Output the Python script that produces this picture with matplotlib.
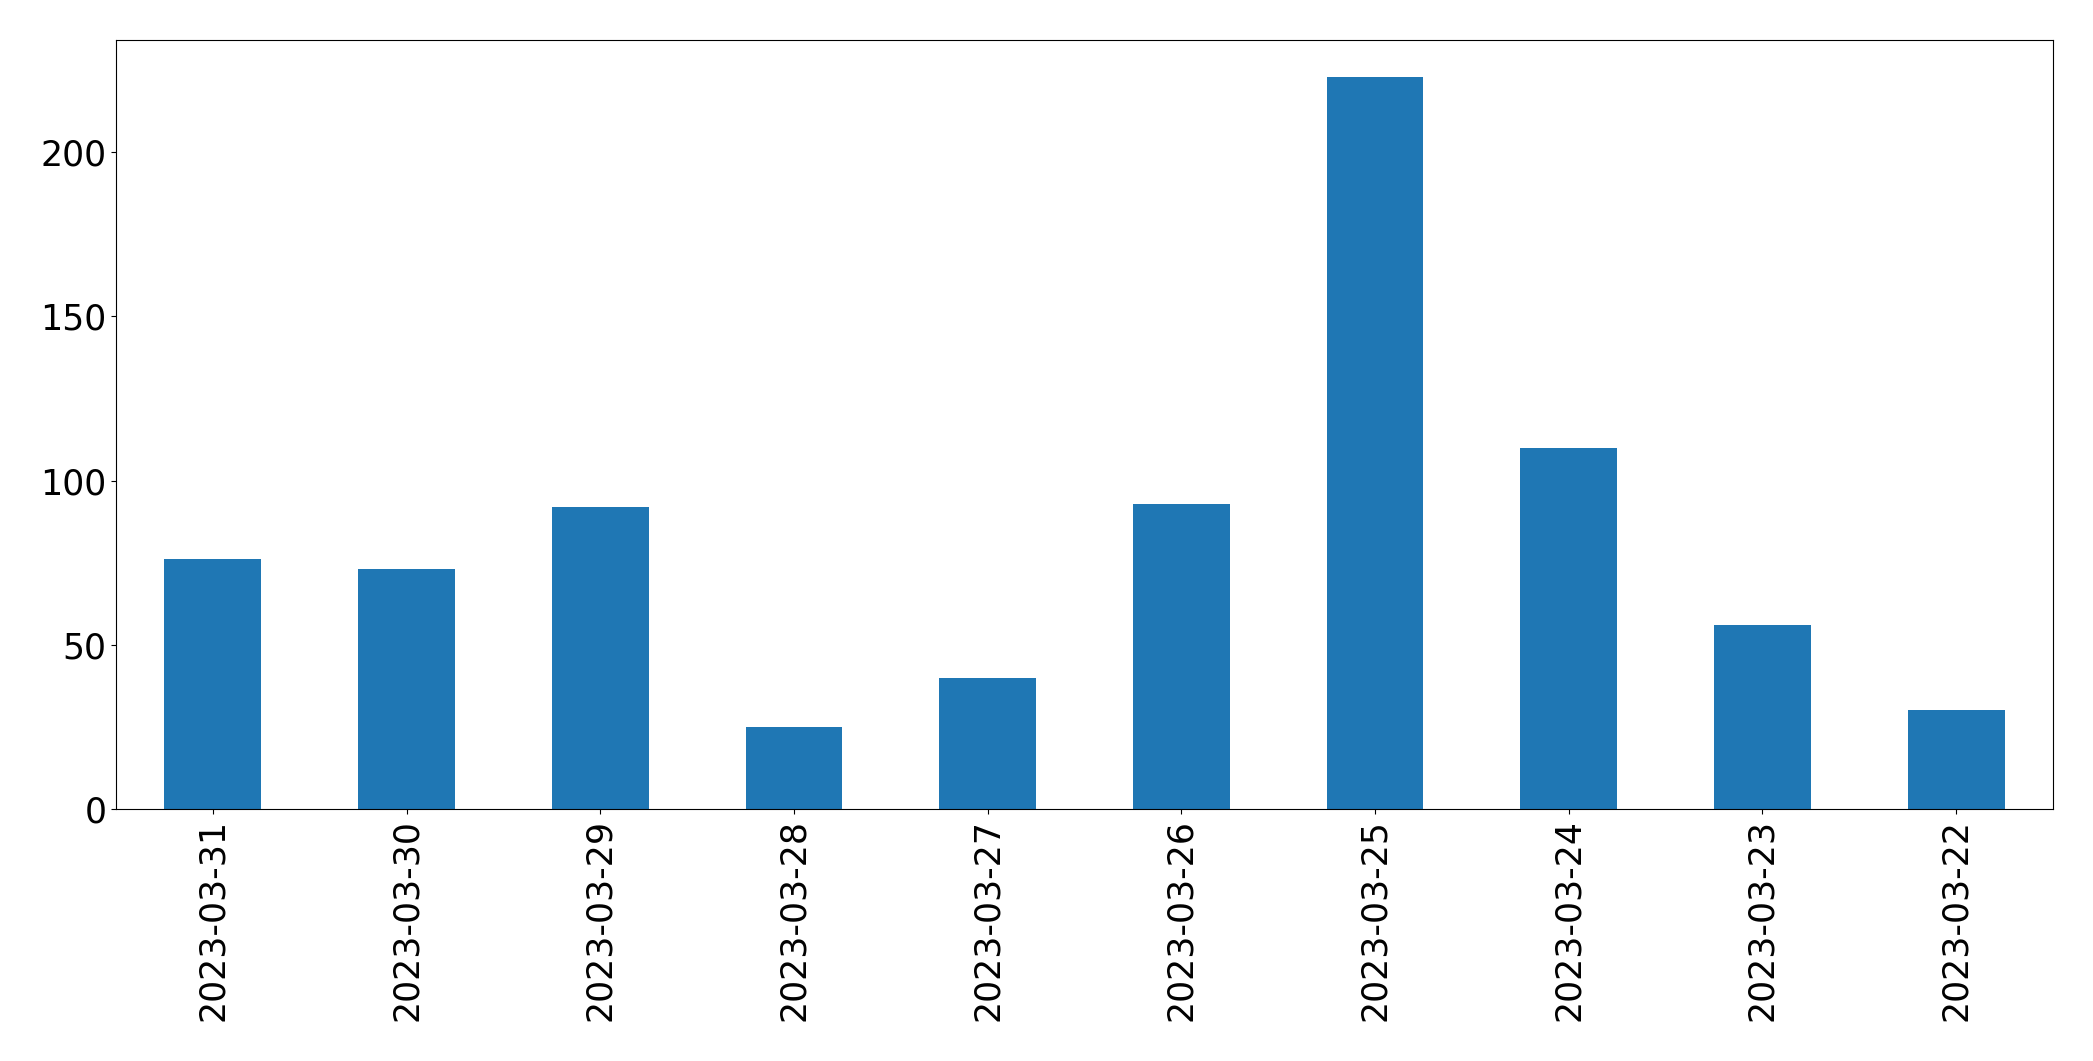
import matplotlib
matplotlib.use("Agg")
import matplotlib.pyplot as plt
import numpy as np

dates = ["2023-03-31", "2023-03-30", "2023-03-29", "2023-03-28", "2023-03-27",
         "2023-03-26", "2023-03-25", "2023-03-24", "2023-03-23", "2023-03-22"]
counts = [76, 73, 92, 25, 40, 93, 223, 110, 56, 30]

fig, ax = plt.subplots(figsize=(20.93, 10.61), dpi=100)
fig.subplots_adjust(left=116 / 2093, right=2053 / 2093, top=1 - 40 / 1061, bottom=1 - 809 / 1061)

x = np.arange(len(dates))
ax.bar(x, counts, width=0.5, color="#1f77b4")
ax.set_xlim(-0.5, len(dates) - 0.5)
ax.set_xticks(x)
ax.set_xticklabels(dates, rotation=90)
ax.tick_params(axis="both", labelsize=25)

fig.savefig("out.png", dpi=100)
